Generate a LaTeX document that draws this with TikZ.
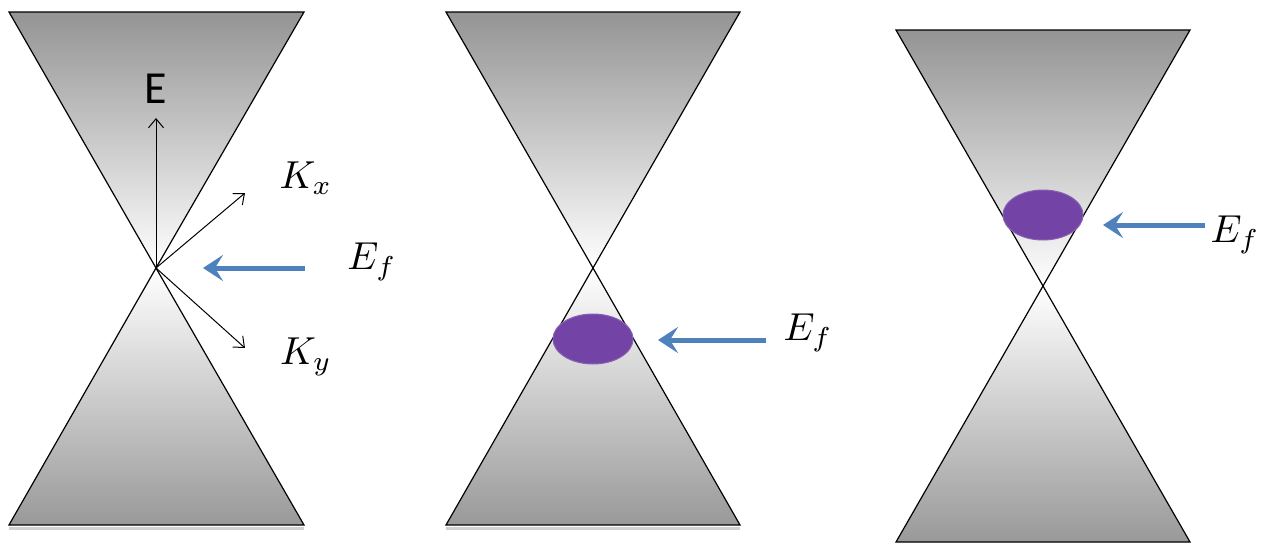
\documentclass[tikz,border=0pt]{standalone}
\usepackage{fontspec}
\newfontfamily\carlito{Carlito}
\usetikzlibrary{arrows.meta,shapes.geometric}
\definecolor{efblue}{HTML}{4F81BD}
\definecolor{dotpurple}{HTML}{7344A6}
\newcommand{\mybigmath}[1]{\scalebox{3.9}{$#1$}}
\tikzset{
  conetop/.style={top color=black!42, middle color=black!20, bottom color=white, draw=black, line width=1.2pt, line join=miter},
  conebot/.style={top color=white, middle color=black!12, bottom color=black!40, draw=black, line width=1.2pt, line join=miter},
  axis/.style={draw=black, line width=1pt, -{Straight Barb[length=9pt,width=15pt,line width=1pt]}},
  efarrow/.style={draw=efblue, line width=5pt, -{Stealth[length=20pt,width=26pt,inset=8pt]}},
  dot/.style={ellipse, fill=dotpurple, draw=dotpurple!85, line width=1pt, inner sep=0pt},
  lbl/.style={inner sep=0pt},
  shadowline/.style={draw=black!18, line width=3pt}
}
\begin{document}
\begin{tikzpicture}[x=1pt,y=-1pt]
\useasboundingbox (0,0) rectangle (1269,546);
% ---------- panel 1 ----------
\coordinate (a1tl) at (9,12); \coordinate (a1tr) at (304,12);
\coordinate (a1c) at (156,268);
\coordinate (a1bl) at (9,525); \coordinate (a1br) at (304,525);
\draw[shadowline] ([yshift=-3]a1bl) -- ([yshift=-3]a1br);
\shade[conetop] (a1tl) -- (a1tr) -- (a1c) -- cycle;
\shade[conebot] (a1c) -- (a1br) -- (a1bl) -- cycle;
\coordinate (e1) at (156,118);
\coordinate (kx1) at (245,193);
\coordinate (ky1) at (245,348);
\draw[axis] (a1c) -- (e1);
\draw[axis] (a1c) -- (kx1);
\draw[axis] (a1c) -- (ky1);
\node[lbl] (E1) at (156,89) {\scalebox{1.35}{\carlito\fontsize{34}{40}\selectfont E}};
\node[lbl] (Kx1) at (306,178) {\mybigmath{K_x}};
\node[lbl] (Ky1) at (306,357) {\mybigmath{K_y}};
\coordinate (t1) at (305,268); \coordinate (h1) at (203,268);
\draw[efarrow] (t1) -- (h1);
\node[lbl] (Ef1) at (372,262) {\mybigmath{E_f}};
% ---------- panel 2 ----------
\coordinate (a2tl) at (446,12); \coordinate (a2tr) at (740,12);
\coordinate (a2c) at (593,268);
\coordinate (a2bl) at (446,525); \coordinate (a2br) at (740,525);
\draw[shadowline] ([yshift=-3]a2bl) -- ([yshift=-3]a2br);
\shade[conetop] (a2tl) -- (a2tr) -- (a2c) -- cycle;
\shade[conebot] (a2c) -- (a2br) -- (a2bl) -- cycle;
\node[dot, minimum width=80pt, minimum height=50pt] (d2) at (593,339) {};
\coordinate (t2) at (766,340); \coordinate (h2) at (658,340);
\draw[efarrow] (t2) -- (h2);
\node[lbl] (Ef2) at (808,333) {\mybigmath{E_f}};
% ---------- panel 3 ----------
\coordinate (a3tl) at (896,30); \coordinate (a3tr) at (1190,30);
\coordinate (a3c) at (1043,286);
\coordinate (a3bl) at (896,542); \coordinate (a3br) at (1190,542);
\shade[conetop] (a3tl) -- (a3tr) -- (a3c) -- cycle;
\shade[conebot] (a3c) -- (a3br) -- (a3bl) -- cycle;
\node[dot, minimum width=80pt, minimum height=50pt] (d3) at (1043,215) {};
\coordinate (t3) at (1205,225); \coordinate (h3) at (1103,225);
\draw[efarrow] (t3) -- (h3);
\node[lbl] (Ef3) at (1235,235) {\mybigmath{E_f}};
\end{tikzpicture}
\end{document}
